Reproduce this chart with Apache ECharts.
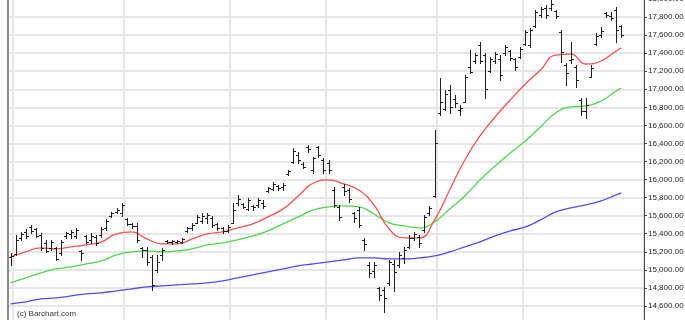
<!DOCTYPE html>
<html>

<head>
    <meta charset="utf-8" />
    <title>Barchart</title>
    <script src="https://cdn.jsdelivr.net/npm/echarts@6/dist/echarts.min.js"></script>
    <style>
        html, body { margin: 0; padding: 0; background: #fff; }
        #main { width: 685px; height: 320px; }
    </style>
</head>

<body>
    <div id="main"></div>
</body>

<script>
    // daily OHLC bars, oldest first
    var opens = [15144, 15177, 15354, 15420, 15475, 15453, 15387, 15298, 15243, 15243,
        15188, 15376, 15398, 15376, 15210, 15376, 15331, 15365, 15387, 15464,
        15597, 15641, 15630, 15564, 15509, 15486, 15243, 15221, 15143, 15000,
        15166, 15320, 15309, 15309, 15309, 15431, 15464, 15520, 15542, 15575,
        15575, 15509, 15464, 15431, 15520, 15741, 15730, 15675, 15708, 15719,
        15741, 15874, 15896, 15930, 15919, 16062, 16195, 16273, 16173, 16361,
        16106, 16361, 16217, 16184, 15885, 15697, 15919, 15885, 15630, 15664,
        15331, 15055, 14989, 14800, 14778, 14855, 15066, 15055, 15132, 15254,
        15354, 15365, 15442, 15630, 15818, 16737, 16781, 16992, 16893, 16770,
        16859, 17247, 17313, 17490, 17380, 17202, 17313, 17335, 17402, 17424,
        17335, 17357, 17501, 17490, 17700, 17822, 17900, 17900, 17866, 17634,
        17269, 17324, 17247, 16881, 16760, 17136, 17501, 17600, 17844, 17811,
        17877, 17700];
    var highs = [15188, 15387, 15420, 15453, 15497, 15464, 15409, 15331, 15331, 15254,
        15331, 15420, 15442, 15464, 15221, 15387, 15409, 15387, 15475, 15564,
        15641, 15686, 15741, 15575, 15520, 15520, 15254, 15254, 15166, 15166,
        15243, 15331, 15331, 15331, 15354, 15475, 15520, 15608, 15630, 15630,
        15597, 15520, 15475, 15497, 15741, 15830, 15741, 15797, 15719, 15797,
        15775, 15919, 15974, 15941, 15963, 16106, 16350, 16306, 16195, 16383,
        16250, 16372, 16239, 16217, 15919, 15719, 15952, 15908, 15641, 15697,
        15354, 15088, 15088, 14811, 14811, 15110, 15110, 15199, 15254, 15387,
        15420, 15387, 15608, 15708, 16549, 17125, 16992, 17047, 16937, 16826,
        17158, 17435, 17402, 17523, 17402, 17357, 17413, 17380, 17490, 17435,
        17346, 17468, 17656, 17678, 17877, 17911, 17933, 17988, 17877, 17656,
        17291, 17524, 17269, 16903, 16903, 17269, 17623, 17689, 17855, 17855,
        17911, 17711];
    var lows = [15055, 15165, 15331, 15354, 15409, 15365, 15221, 15199, 15221, 15110,
        15165, 15354, 15354, 15354, 15110, 15298, 15298, 15276, 15365, 15442,
        15586, 15630, 15597, 15498, 15464, 15309, 15144, 15055, 14778, 14977,
        15110, 15298, 15287, 15298, 15298, 15420, 15442, 15520, 15520, 15520,
        15475, 15442, 15409, 15420, 15520, 15719, 15686, 15664, 15664, 15697,
        15686, 15863, 15885, 15885, 15885, 16051, 16184, 16184, 16128, 16306,
        16073, 16250, 16073, 16073, 15697, 15553, 15830, 15752, 15531, 15475,
        15221, 14922, 14922, 14667, 14534, 14833, 14767, 15033, 15077, 15243,
        15331, 15254, 15420, 15608, 15807, 16715, 16770, 16737, 16804, 16715,
        16859, 17180, 17291, 17291, 16903, 17191, 17291, 17102, 17380, 17324,
        17213, 17346, 17490, 17468, 17690, 17800, 17789, 17877, 17789, 17302,
        17047, 17291, 17025, 16715, 16682, 17136, 17490, 17579, 17800, 17767,
        17524, 17579];
    var closes = [15155, 15332, 15398, 15376, 15431, 15376, 15243, 15210, 15309, 15121,
        15309, 15409, 15420, 15442, 15188, 15309, 15376, 15298, 15453, 15542,
        15630, 15664, 15719, 15509, 15486, 15331, 15221, 15088, 14833, 15088,
        15221, 15309, 15320, 15320, 15343, 15464, 15497, 15586, 15597, 15608,
        15497, 15464, 15431, 15475, 15664, 15785, 15697, 15775, 15697, 15775,
        15708, 15908, 15952, 15908, 15941, 16095, 16317, 16217, 16140, 16339,
        16239, 16273, 16106, 16106, 15719, 15586, 15874, 15785, 15575, 15497,
        15287, 14966, 15055, 14722, 14689, 15088, 14977, 15166, 15221, 15354,
        15398, 15298, 15586, 15686, 16405, 16859, 16948, 16803, 16848, 16792,
        17136, 17191, 17380, 17313, 17003, 17335, 17391, 17158, 17468, 17346,
        17247, 17446, 17634, 17656, 17855, 17889, 17822, 17944, 17811, 17413,
        17180, 17335, 17103, 16760, 16826, 17236, 17590, 17645, 17822, 17789,
        17656, 17602.67];

    // moving averages, read every third bar
    var maIdx = [0, 3, 6, 9, 12, 15, 18, 21, 24, 27, 30, 33, 36, 39, 42, 45, 48, 51, 54, 57,
        60, 63, 66, 69, 72, 75, 78, 81, 84, 87, 90, 93, 96, 99, 102, 105, 108, 111, 114, 117,
        120, 121];
    var maRed = [15143, 15199, 15243, 15232, 15254, 15276, 15309, 15398, 15420, 15342,
        15287, 15287, 15342, 15398, 15420, 15464, 15509, 15586, 15675, 15818,
        15962, 15996, 15951, 15885, 15719, 15453, 15354, 15354, 15553, 15885,
        16217, 16483, 16693, 16881, 17058, 17213, 17379, 17390, 17280, 17313,
        17424, 17457];
    var maGreen = [14855, 14911, 14966, 15010, 15032, 15066, 15099, 15165, 15199, 15210,
        15199, 15210, 15232, 15276, 15298, 15331, 15376, 15431, 15509, 15586,
        15663, 15697, 15708, 15697, 15619, 15520, 15486, 15464, 15531, 15675,
        15818, 15996, 16151, 16294, 16427, 16582, 16737, 16804, 16815, 16870,
        16981, 17014];
    var maBlue = [14623, 14645, 14678, 14689, 14711, 14734, 14745, 14767, 14789, 14811,
        14822, 14833, 14844, 14855, 14878, 14911, 14944, 14977, 15010, 15044,
        15066, 15088, 15110, 15132, 15132, 15121, 15121, 15132, 15154, 15199,
        15254, 15309, 15376, 15431, 15475, 15553, 15641, 15686, 15719, 15763,
        15830, 15852];

    var monthStarts = [1, 23, 44, 63, 85, 102];
    var lastPrice = 17602.67;
    var slotCount = 126; // bars plus empty room before the price axis

    var slots = [];
    for (var i = 0; i < slotCount; i++) slots.push(String(i));

    var bars = closes.map(function (c, i) {
        return [i, opens[i], c, lows[i], highs[i]];
    });

    function maData(vals) {
        return maIdx.map(function (idx, k) { return [idx, vals[k]]; });
    }

    function fmt(v) {
        return v.toLocaleString('en-US', { minimumFractionDigits: 2, maximumFractionDigits: 2 });
    }

    // OHLC bar: vertical high-low, open tick left, close tick right
    function renderBar(params, api) {
        var idx = api.value(0);
        var pO = api.coord([idx, api.value(1)]);
        var pC = api.coord([idx, api.value(2)]);
        var pL = api.coord([idx, api.value(3)]);
        var pH = api.coord([idx, api.value(4)]);
        var x = Math.round(pH[0]) + 0.5;
        var yo = Math.round(pO[1]) + 0.5;
        var yc = Math.round(pC[1]) + 0.5;
        var st = { stroke: '#1e1e1e', lineWidth: 1 };
        return {
            type: 'group',
            children: [
                { type: 'line', shape: { x1: x, y1: Math.round(pH[1]), x2: x, y2: Math.round(pL[1]) + 1 }, style: st },
                { type: 'line', shape: { x1: x - 2.5, y1: yo, x2: x, y2: yo }, style: st },
                { type: 'line', shape: { x1: x, y1: yc, x2: x + 2.5, y2: yc }, style: st }
            ]
        };
    }

    var myChart = echarts.init(document.getElementById('main'));

    var option = {
        animation: false,
        backgroundColor: '#fff',
        grid: { left: 8, right: 41, top: -1, bottom: -4, outerBoundsMode: 'none' },
        xAxis: {
            type: 'category',
            data: slots,
            boundaryGap: true,
            axisLine: { show: false },
            axisTick: { show: false },
            axisLabel: { show: false },
            splitLine: {
                show: true,
                interval: function (index) { return monthStarts.indexOf(index) >= 0; },
                lineStyle: { color: '#e6e6e6', width: 2 }
            }
        },
        yAxis: [
            {
                type: 'value',
                position: 'right',
                min: 14400,
                max: 18000,
                interval: 200,
                axisLine: { show: true, lineStyle: { color: '#444', width: 1 } },
                axisTick: { show: true, length: 3, lineStyle: { color: '#444' } },
                axisLabel: {
                    margin: 4,
                    fontSize: 8,
                    color: '#222',
                    fontFamily: 'Liberation Sans',
                    formatter: fmt
                },
                splitLine: { show: true, lineStyle: { color: '#e6e6e6', width: 2 } }
            },
            {
                type: 'value',
                position: 'left',
                min: 14400,
                max: 18000,
                interval: 200,
                axisLine: { show: true, lineStyle: { color: '#8c8c8c', width: 2 } },
                axisTick: { show: false },
                axisLabel: { show: false },
                splitLine: { show: false }
            }
        ],
        graphic: [
            {
                type: 'text',
                left: 17,
                bottom: 2,
                style: {
                    text: '(c) Barchart.com',
                    fontSize: 8,
                    fontFamily: 'Liberation Sans',
                    fill: '#333'
                }
            }
        ],
        series: [
            {
                type: 'line',
                data: maData(maBlue),
                smooth: true,
                connectNulls: true,
                showSymbol: false,
                lineStyle: { color: '#4d4dff', width: 1.3 },
                markLine: {
                    silent: true,
                    symbol: 'none',
                    lineStyle: { opacity: 0 },
                    label: {
                        position: 'end',
                        distance: 2,
                        formatter: function () { return fmt(lastPrice); },
                        backgroundColor: '#000',
                        color: '#fff',
                        fontSize: 8,
                        fontFamily: 'Liberation Sans',
                        padding: [2, 1, 1, 1]
                    },
                    data: [{ yAxis: lastPrice }]
                }
            },
            {
                type: 'line',
                data: maData(maGreen),
                smooth: true,
                showSymbol: false,
                lineStyle: { color: '#4cd84c', width: 1.3 }
            },
            {
                type: 'line',
                data: maData(maRed),
                smooth: true,
                showSymbol: false,
                lineStyle: { color: '#ff5050', width: 1.3 }
            },
            {
                type: 'custom',
                renderItem: renderBar,
                data: bars,
                encode: { x: 0, y: [1, 2, 3, 4] },
                z: 5
            }
        ]
    };

    myChart.setOption(option);
</script>

</html>
